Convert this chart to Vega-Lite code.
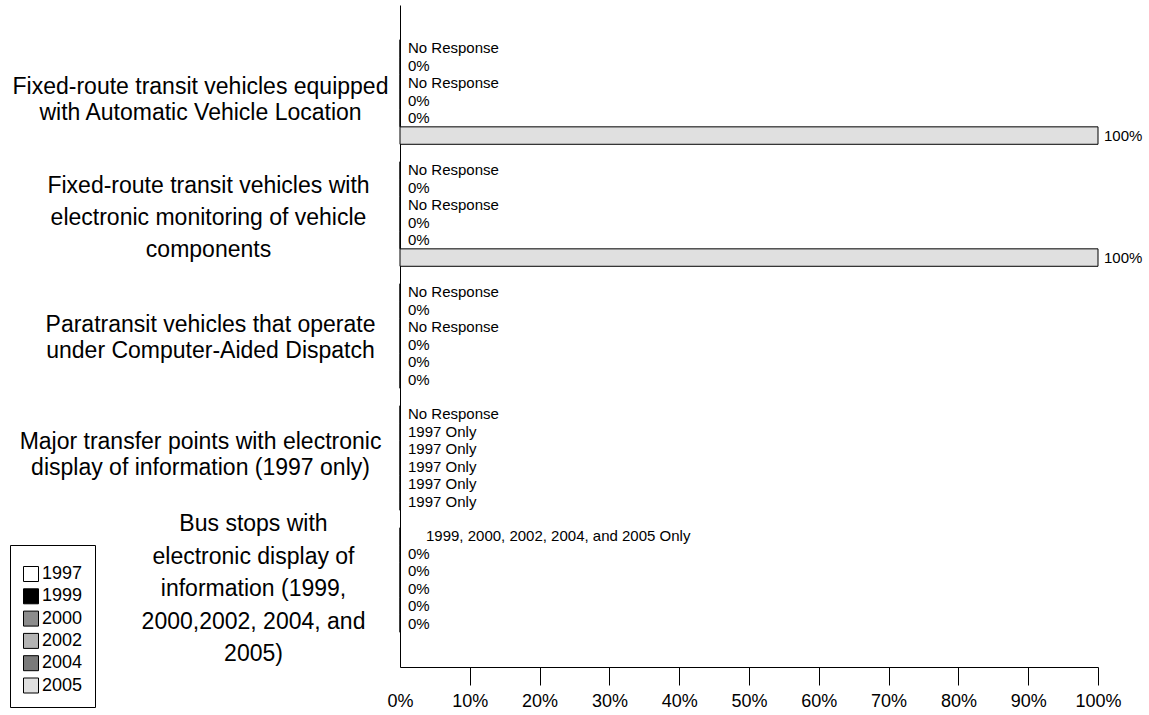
{
  "$schema": "https://vega.github.io/schema/vega-lite/v6.json",
  "width": 698,
  "height": 662,
  "autosize": "none",
  "padding": {"left": 400, "top": 5, "right": 51, "bottom": 48},
  "background": "white",
  "config": {"font": "Liberation Sans", "view": {"stroke": null}},
  "data": {"values": [
    {"measure": "Fixed-route transit vehicles equipped|with Automatic Vehicle Location", "year": "1997", "value": 0, "label": "No Response"},
    {"measure": "Fixed-route transit vehicles equipped|with Automatic Vehicle Location", "year": "1999", "value": 0, "label": "0%"},
    {"measure": "Fixed-route transit vehicles equipped|with Automatic Vehicle Location", "year": "2000", "value": 0, "label": "No Response"},
    {"measure": "Fixed-route transit vehicles equipped|with Automatic Vehicle Location", "year": "2002", "value": 0, "label": "0%"},
    {"measure": "Fixed-route transit vehicles equipped|with Automatic Vehicle Location", "year": "2004", "value": 0, "label": "0%"},
    {"measure": "Fixed-route transit vehicles equipped|with Automatic Vehicle Location", "year": "2005", "value": 100, "label": "100%"},
    {"measure": "Fixed-route transit vehicles with|electronic monitoring of vehicle|components", "year": "1997", "value": 0, "label": "No Response"},
    {"measure": "Fixed-route transit vehicles with|electronic monitoring of vehicle|components", "year": "1999", "value": 0, "label": "0%"},
    {"measure": "Fixed-route transit vehicles with|electronic monitoring of vehicle|components", "year": "2000", "value": 0, "label": "No Response"},
    {"measure": "Fixed-route transit vehicles with|electronic monitoring of vehicle|components", "year": "2002", "value": 0, "label": "0%"},
    {"measure": "Fixed-route transit vehicles with|electronic monitoring of vehicle|components", "year": "2004", "value": 0, "label": "0%"},
    {"measure": "Fixed-route transit vehicles with|electronic monitoring of vehicle|components", "year": "2005", "value": 100, "label": "100%"},
    {"measure": "Paratransit vehicles that operate|under Computer-Aided Dispatch", "year": "1997", "value": 0, "label": "No Response"},
    {"measure": "Paratransit vehicles that operate|under Computer-Aided Dispatch", "year": "1999", "value": 0, "label": "0%"},
    {"measure": "Paratransit vehicles that operate|under Computer-Aided Dispatch", "year": "2000", "value": 0, "label": "No Response"},
    {"measure": "Paratransit vehicles that operate|under Computer-Aided Dispatch", "year": "2002", "value": 0, "label": "0%"},
    {"measure": "Paratransit vehicles that operate|under Computer-Aided Dispatch", "year": "2004", "value": 0, "label": "0%"},
    {"measure": "Paratransit vehicles that operate|under Computer-Aided Dispatch", "year": "2005", "value": 0, "label": "0%"},
    {"measure": "Major transfer points with electronic|display of information (1997 only)", "year": "1997", "value": 0, "label": "No Response"},
    {"measure": "Major transfer points with electronic|display of information (1997 only)", "year": "1999", "value": 0, "label": "1997 Only"},
    {"measure": "Major transfer points with electronic|display of information (1997 only)", "year": "2000", "value": 0, "label": "1997 Only"},
    {"measure": "Major transfer points with electronic|display of information (1997 only)", "year": "2002", "value": 0, "label": "1997 Only"},
    {"measure": "Major transfer points with electronic|display of information (1997 only)", "year": "2004", "value": 0, "label": "1997 Only"},
    {"measure": "Major transfer points with electronic|display of information (1997 only)", "year": "2005", "value": 0, "label": "1997 Only"},
    {"measure": "Bus stops with|electronic display of|information (1999,|2000,2002, 2004, and|2005)", "year": "1997", "value": 0, "label": "1999, 2000, 2002, 2004, and 2005 Only"},
    {"measure": "Bus stops with|electronic display of|information (1999,|2000,2002, 2004, and|2005)", "year": "1999", "value": 0, "label": "0%"},
    {"measure": "Bus stops with|electronic display of|information (1999,|2000,2002, 2004, and|2005)", "year": "2000", "value": 0, "label": "0%"},
    {"measure": "Bus stops with|electronic display of|information (1999,|2000,2002, 2004, and|2005)", "year": "2002", "value": 0, "label": "0%"},
    {"measure": "Bus stops with|electronic display of|information (1999,|2000,2002, 2004, and|2005)", "year": "2004", "value": 0, "label": "0%"},
    {"measure": "Bus stops with|electronic display of|information (1999,|2000,2002, 2004, and|2005)", "year": "2005", "value": 0, "label": "0%"}
  ]},
  "encoding": {
    "y": {
      "field": "measure", "type": "nominal", "sort": null,
      "scale": {"paddingInner": 0, "paddingOuter": 0.2131},
      "axis": {
        "title": null, "ticks": false, "domainColor": "black", "domainWidth": 1,
        "labelExpr": "split(datum.label, '|')",
        "labelFontSize": 23, "labelColor": "black", "labelAlign": "center", "labelBaseline": "middle",
        "labelLineHeight": {"expr": "datum.value == 'Bus stops with|electronic display of|information (1999,|2000,2002, 2004, and|2005)' ? 32.5 : (datum.value == 'Fixed-route transit vehicles with|electronic monitoring of vehicle|components' ? 32 : 26)"},
        "labelLimit": 0,
        "labelPadding": {"condition": [
          {"test": "datum.value == 'Bus stops with|electronic display of|information (1999,|2000,2002, 2004, and|2005)'", "value": 147},
          {"test": "datum.value == 'Fixed-route transit vehicles with|electronic monitoring of vehicle|components'", "value": 192},
          {"test": "datum.value == 'Paratransit vehicles that operate|under Computer-Aided Dispatch'", "value": 190}
        ], "value": 200},
        "labelOffset": {"condition": [
          {"test": "datum.value == 'Bus stops with|electronic display of|information (1999,|2000,2002, 2004, and|2005)'", "value": -56},
          {"test": "datum.value == 'Fixed-route transit vehicles with|electronic monitoring of vehicle|components'", "value": -28},
          {"test": "datum.value == 'Paratransit vehicles that operate|under Computer-Aided Dispatch'", "value": -11},
          {"test": "datum.value == 'Major transfer points with electronic|display of information (1997 only)'", "value": -16}
        ], "value": -5}
      }
    },
    "yOffset": {"field": "year", "type": "nominal", "sort": "ascending", "scale": {"paddingInner": 0, "paddingOuter": 0.5}},
    "x": {
      "field": "value", "type": "quantitative",
      "scale": {"domain": [0, 100], "nice": false},
      "axis": {
        "title": null, "grid": false,
        "values": [0, 10, 20, 30, 40, 50, 60, 70, 80, 90, 100],
        "labelExpr": "datum.value + '%'",
        "labelFontSize": 18, "labelColor": "black", "labelPadding": 7, "labelFlush": false, "labelOverlap": false,
        "tickSize": 18, "tickColor": "black", "domainColor": "black",
        "tickOpacity": {"condition": {"test": "datum.value == 0", "value": 0}, "value": 1}
      }
    }
  },
  "layer": [
    {
      "mark": {"type": "bar", "stroke": "black", "strokeWidth": 1},
      "encoding": {
        "color": {
          "field": "year", "type": "nominal",
          "scale": {"domain": ["1997", "1999", "2000", "2002", "2004", "2005"], "range": ["#ffffff", "#000000", "#8c8c8c", "#b4b4b4", "#7a7a7a", "#e0e0e0"]},
          "legend": {
            "orient": "none", "legendX": -390, "legendY": 540,
            "title": " ", "titleFontSize": 4, "titlePadding": 4,
            "labelFontSize": 18, "labelColor": "black", "labelOffset": 2,
            "symbolType": "square", "symbolSize": 225, "symbolStrokeColor": "black", "symbolStrokeWidth": 1, "symbolOpacity": 1,
            "strokeColor": "black", "fillColor": "white", "padding": 12, "rowPadding": 2.3
          }
        }
      }
    },
    {
      "mark": {"type": "text", "align": "left", "baseline": "middle", "fontSize": 15, "color": "black",
        "dx": {"expr": "datum.label == '1999, 2000, 2002, 2004, and 2005 Only' ? 26 : (datum.value > 0 ? 6 : 8)"}},
      "encoding": {"text": {"field": "label"}}
    }
  ]
}
